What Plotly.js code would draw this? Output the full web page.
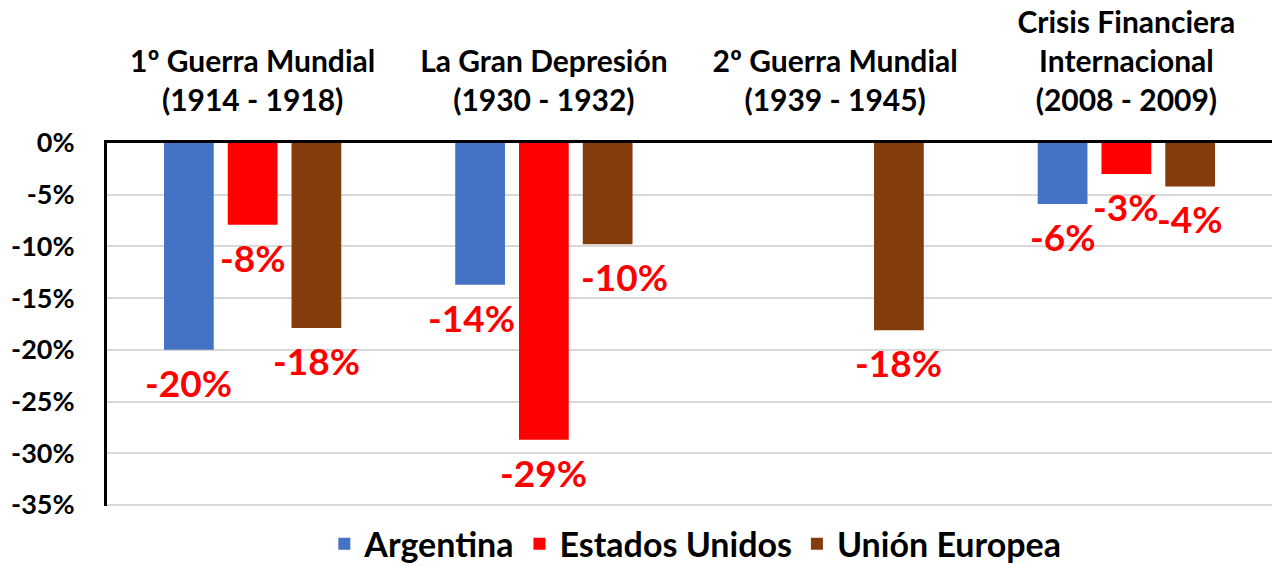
<!DOCTYPE html>
<html>
<head>
<meta charset="utf-8">
<script src="https://cdn.plot.ly/plotly-3.0.1.min.js"></script>
<style>html,body{margin:0;padding:0;background:#fff;}#chart{width:1272px;height:566px;}</style>
</head>
<body>
<div id="chart"></div>
<script>
const categories = [
  "1º Guerra Mundial<br>(1914 - 1918)",
  "La Gran Depresión<br>(1930 - 1932)",
  "2º Guerra Mundial<br>(1939 - 1945)",
  "Crisis Financiera<br>Internacional<br>(2008 - 2009)"
];
const seriesNames = ["Argentina", "Estados Unidos", "Unión Europea"];
const argentina = [-0.20, -0.137, null, -0.059];
const estadosUnidos = [-0.079, -0.287, null, -0.030];
const unionEuropea = [-0.179, -0.098, -0.181, -0.042];
const labelTexts = [
  ["-20%", "-14%", null, "-6%"],
  ["-8%", "-29%", null, "-3%"],
  ["-18%", "-10%", "-18%", "-4%"]
];
const yTickVals = [0, -0.05, -0.10, -0.15, -0.20, -0.25, -0.30, -0.35];
const yTickText = ["0%", "-5%", "-10%", "-15%", "-20%", "-25%", "-30%", "-35%"];

const colors = ["#4472C4", "#FF0000", "#843C0C"];
const seriesValues = [argentina, estadosUnidos, unionEuropea];
const FONT = "Lato, 'Open Sans', sans-serif";
// horizontal nudges (px) so labels avoid the neighbouring bar, as in the original
const labelNudge = [[0, -9, 0, 0], [0, 0, 0, 0], [0, 17, 0, 0]];

const traces = seriesValues.map((vals, i) => ({
  type: "bar",
  name: seriesNames[i],
  x: categories,
  y: vals,
  marker: {color: colors[i]},
  hoverinfo: "skip"
}));

const W = 1272, ML = 107, MR = 0;
const bargap = 0.343;
const catPx = (W - ML - MR) / categories.length;
const slotPx = catPx * (1 - bargap) / 3;

const annotations = [];
seriesValues.forEach((vals, i) => {
  vals.forEach((v, j) => {
    if (v === null) return;
    annotations.push({
      x: categories[j], y: v, xref: "x", yref: "y",
      text: labelTexts[i][j], showarrow: false,
      xshift: (i - 1) * slotPx + labelNudge[i][j], yshift: -8, yanchor: "top",
      font: {family: FONT, size: 37, color: "#FF0000", weight: "bold"}
    });
  });
});

const layout = {
  width: 1272, height: 566,
  margin: {l: ML, r: MR, t: 143, b: 60, autoexpand: false},
  paper_bgcolor: "#fff", plot_bgcolor: "#fff",
  barmode: "group", bargap: bargap, bargroupgap: 0.22,
  showlegend: true,
  legend: {orientation: "h", x: 0.505, xanchor: "center", y: -0.025, yanchor: "top",
    font: {family: FONT, size: 34, color: "#000", weight: "bold"}, itemwidth: 30, traceorder: "normal"},
  xaxis: {side: "top", type: "category", showgrid: false, showline: true, linecolor: "#000", linewidth: 3,
    ticks: "", ticklabelstandoff: 17,
    tickfont: {family: FONT, size: 30, color: "#000", weight: "bold"}, fixedrange: true},
  yaxis: {range: [-0.351, 0], tickvals: yTickVals, ticktext: yTickText,
    showgrid: true, gridcolor: "#D9D9D9", gridwidth: 2,
    showline: true, linecolor: "#000", linewidth: 3, zeroline: false,
    ticks: "", ticklabelstandoff: 24,
    tickfont: {family: FONT, size: 27, color: "#000", weight: "bold"}, fixedrange: true},
  annotations: annotations
};

Plotly.newPlot("chart", traces, layout, {displayModeBar: false, staticPlot: true});
</script>
</body>
</html>
